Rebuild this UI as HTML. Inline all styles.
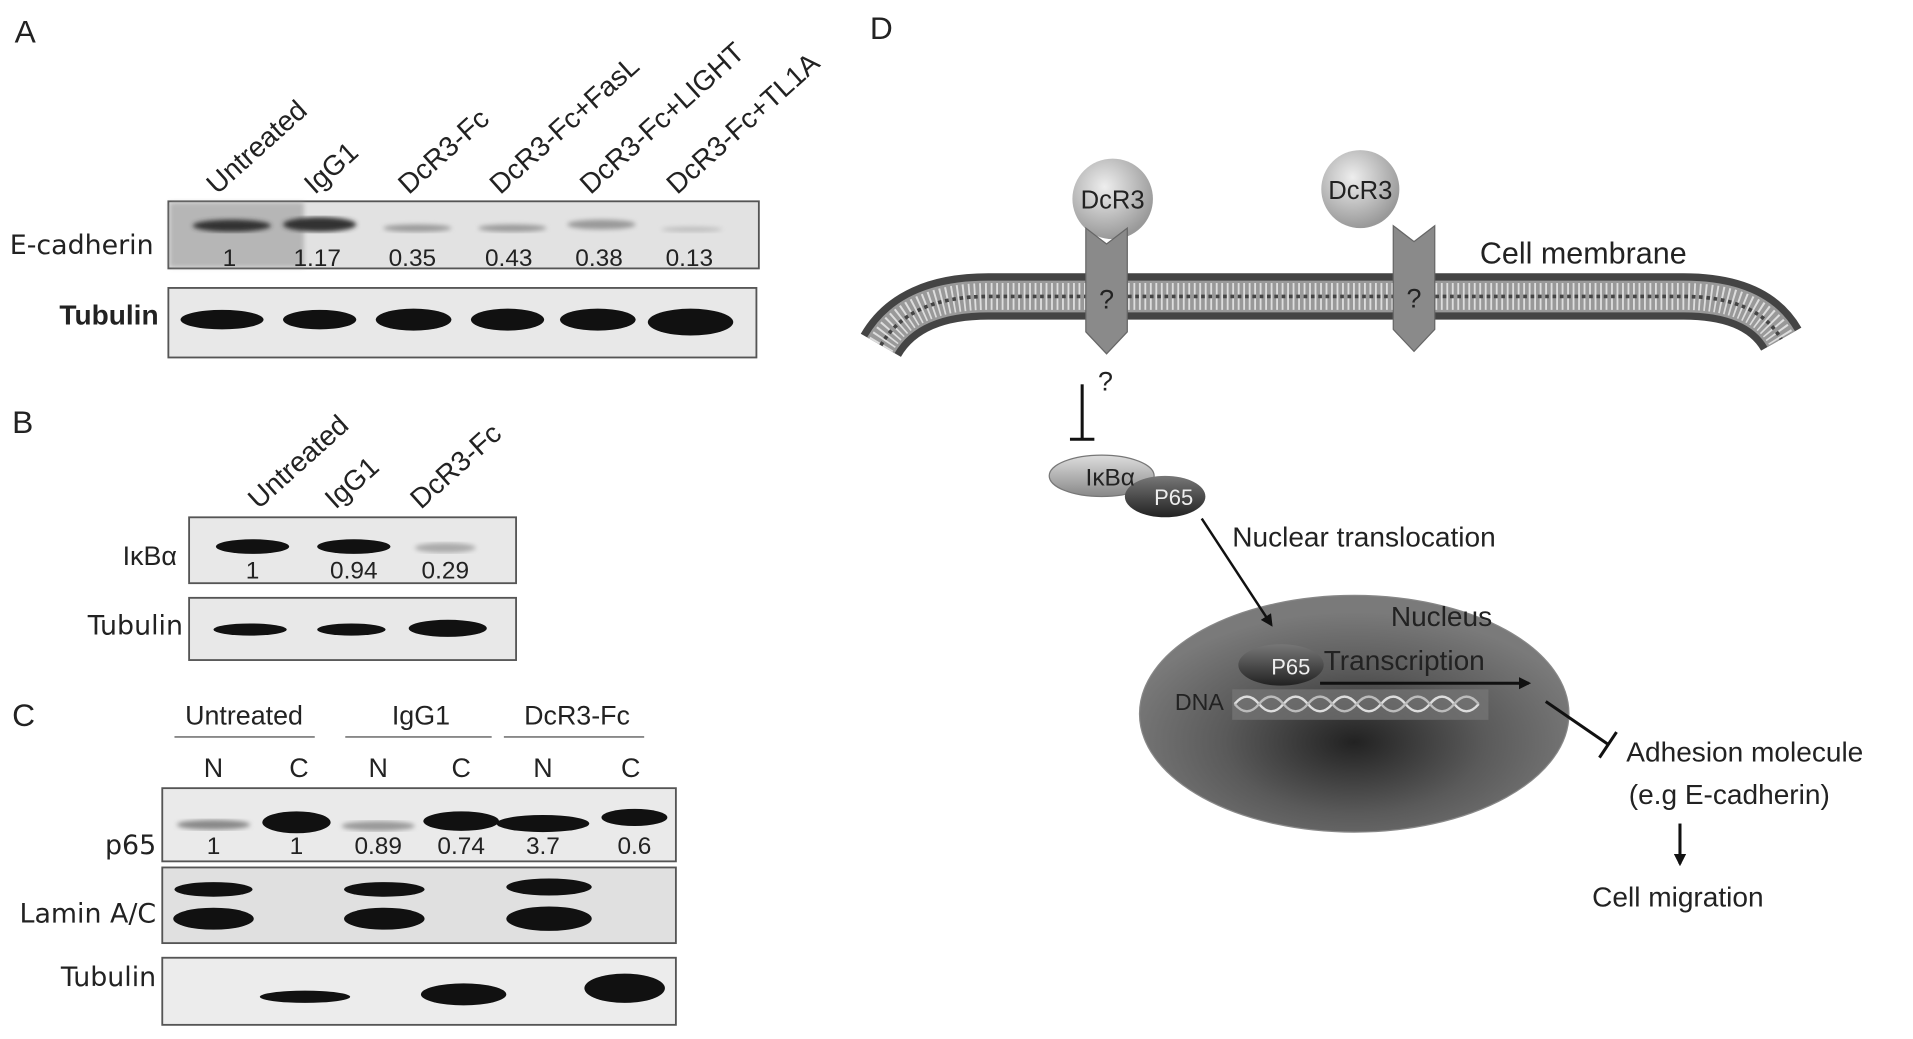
<!DOCTYPE html>
<html><head><meta charset="utf-8"><style>
html,body{margin:0;padding:0;background:#fff;}
svg{display:block;}
text{font-family:"Liberation Sans",sans-serif;fill:#222;}
.b{font-family:"DejaVu Sans","Liberation Sans",sans-serif;}
</style></head><body>
<svg width="1913" height="1039" viewBox="0 0 1568 851.6" preserveAspectRatio="none" xmlns="http://www.w3.org/2000/svg">
<defs>
<radialGradient id="ball" cx="40%" cy="35%" r="65%"><stop offset="0" stop-color="#eee"/><stop offset="1" stop-color="#999"/></radialGradient>
<radialGradient id="nuc" cx="50%" cy="62%" r="55%"><stop offset="0" stop-color="#222"/><stop offset="0.55" stop-color="#5a5a5a"/><stop offset="1" stop-color="#7a7a7a"/></radialGradient>
<linearGradient id="ikb" x1="0" y1="0" x2="0" y2="1"><stop offset="0" stop-color="#ddd"/><stop offset="1" stop-color="#888"/></linearGradient>
<linearGradient id="p65" x1="0" y1="0" x2="0" y2="1"><stop offset="0" stop-color="#777"/><stop offset="1" stop-color="#222"/></linearGradient>
<filter id="bl"><feGaussianBlur stdDeviation="2"/></filter>
<marker id="ar" markerWidth="10" markerHeight="10" refX="8" refY="5" orient="auto" markerUnits="userSpaceOnUse"><path d="M0,0 L10,5 L0,10 z" fill="#111"/></marker>
</defs>

<!-- Panel A -->
<text x="12" y="35" font-size="26">A</text>
<g font-size="23">
<text transform="translate(178,160) rotate(-42)">Untreated</text>
<text transform="translate(258,160) rotate(-42)">IgG1</text>
<text transform="translate(335,160) rotate(-42)">DcR3-Fc</text>
<text transform="translate(410,160) rotate(-42)">DcR3-Fc+FasL</text>
<text transform="translate(484,160) rotate(-42)">DcR3-Fc+LIGHT</text>
<text transform="translate(555,160) rotate(-42)">DcR3-Fc+TL1A</text>
</g>
<rect x="138" y="165" width="484" height="55" fill="#e2e2e2" stroke="#555" stroke-width="1.5"/>
<rect x="139" y="166" width="110" height="53" fill="#999" filter="url(#bl)" opacity="0.6"/>
<g filter="url(#bl)" fill="#333">
<ellipse cx="190" cy="185" rx="32" ry="5"/><ellipse cx="262" cy="184" rx="30" ry="6"/>
<ellipse cx="342" cy="187" rx="28" ry="3" fill="#999"/><ellipse cx="420" cy="187" rx="28" ry="3" fill="#999"/>
<ellipse cx="493" cy="184" rx="28" ry="4" fill="#999"/><ellipse cx="567" cy="188" rx="25" ry="2" fill="#bbb"/>
</g>
<g font-size="20" text-anchor="middle"><text x="188" y="218">1</text><text x="260" y="218">1.17</text><text x="338" y="218">0.35</text><text x="417" y="218">0.43</text><text x="491" y="218">0.38</text><text x="565" y="218">0.13</text></g>
<text x="8" y="208" font-size="22" class="b">E-cadherin</text>
<rect x="138" y="236" width="482" height="57" fill="#e8e8e8" stroke="#555" stroke-width="1.5"/>
<g fill="#111"><ellipse cx="182" cy="262" rx="34" ry="8"/><ellipse cx="262" cy="262" rx="30" ry="8"/><ellipse cx="339" cy="262" rx="31" ry="9"/><ellipse cx="416" cy="262" rx="30" ry="9"/><ellipse cx="490" cy="262" rx="31" ry="9"/><ellipse cx="566" cy="264" rx="35" ry="11"/></g>
<text x="130" y="266" font-size="23" text-anchor="end" font-weight="bold">Tubulin</text>

<!-- Panel B -->
<text x="10" y="355" font-size="26">B</text>
<g font-size="23">
<text transform="translate(212,418) rotate(-42)">Untreated</text>
<text transform="translate(275,418) rotate(-42)">IgG1</text>
<text transform="translate(345,418) rotate(-42)">DcR3-Fc</text>
</g>
<rect x="155" y="424" width="268" height="54" fill="#e8e8e8" stroke="#555" stroke-width="1.5"/>
<g fill="#111"><ellipse cx="207" cy="448" rx="30" ry="6"/><ellipse cx="290" cy="448" rx="30" ry="6"/><ellipse cx="365" cy="449" rx="25" ry="4" fill="#aaa" filter="url(#bl)"/></g>
<g font-size="20" text-anchor="middle"><text x="207" y="474">1</text><text x="290" y="474">0.94</text><text x="365" y="474">0.29</text></g>
<text x="145" y="463" font-size="22" text-anchor="end">IκBα</text>
<rect x="155" y="490" width="268" height="51" fill="#e8e8e8" stroke="#555" stroke-width="1.5"/>
<g fill="#111"><ellipse cx="205" cy="516" rx="30" ry="5"/><ellipse cx="288" cy="516" rx="28" ry="5"/><ellipse cx="367" cy="515" rx="32" ry="7"/></g>
<text x="150" y="520" font-size="22" text-anchor="end" class="b">Tubulin</text>

<!-- Panel C -->
<text x="10" y="595" font-size="26">C</text>
<g font-size="22" text-anchor="middle"><text x="200" y="594">Untreated</text><text x="345" y="594">IgG1</text><text x="473" y="594">DcR3-Fc</text></g>
<g stroke="#888" stroke-width="1.5"><line x1="143" y1="604" x2="258" y2="604"/><line x1="283" y1="604" x2="403" y2="604"/><line x1="413" y1="604" x2="528" y2="604"/></g>
<g font-size="22" text-anchor="middle"><text x="175" y="637">N</text><text x="245" y="637">C</text><text x="310" y="637">N</text><text x="378" y="637">C</text><text x="445" y="637">N</text><text x="517" y="637">C</text></g>
<rect x="133" y="646" width="421" height="60" fill="#eaeaea" stroke="#555" stroke-width="1.5"/>
<g fill="#111"><ellipse cx="175" cy="676" rx="30" ry="4" fill="#888" filter="url(#bl)"/><ellipse cx="243" cy="674" rx="28" ry="9"/><ellipse cx="310" cy="677" rx="30" ry="4" fill="#999" filter="url(#bl)"/><ellipse cx="378" cy="673" rx="31" ry="8"/><ellipse cx="445" cy="675" rx="38" ry="7"/><ellipse cx="520" cy="670" rx="27" ry="7"/></g>
<g font-size="20" text-anchor="middle"><text x="175" y="700">1</text><text x="243" y="700">1</text><text x="310" y="700">0.89</text><text x="378" y="700">0.74</text><text x="445" y="700">3.7</text><text x="520" y="700">0.6</text></g>
<text x="128" y="700" font-size="22" text-anchor="end" class="b">p65</text>
<rect x="133" y="711" width="421" height="62" fill="#e0e0e0" stroke="#555" stroke-width="1.5"/>
<g fill="#111"><ellipse cx="175" cy="729" rx="32" ry="6"/><ellipse cx="175" cy="753" rx="33" ry="9"/><ellipse cx="315" cy="729" rx="33" ry="6"/><ellipse cx="315" cy="753" rx="33" ry="9"/><ellipse cx="450" cy="727" rx="35" ry="7"/><ellipse cx="450" cy="753" rx="35" ry="10"/></g>
<text x="128" y="756" font-size="22" text-anchor="end" class="b">Lamin A/C</text>
<rect x="133" y="785" width="421" height="55" fill="#ececec" stroke="#555" stroke-width="1.5"/>
<g fill="#111"><ellipse cx="250" cy="817" rx="37" ry="5"/><ellipse cx="380" cy="815" rx="35" ry="9"/><ellipse cx="512" cy="810" rx="33" ry="12"/></g>
<text x="128" y="808" font-size="22" text-anchor="end" class="b">Tubulin</text>

<!-- Panel D -->
<text x="713" y="32" font-size="26">D</text>
<path d="M722,283 Q745,243 810,243 L1380,243 Q1440,243 1460,278" fill="none" stroke="#444" stroke-width="38"/>
<path d="M722,283 Q745,243 810,243 L1380,243 Q1440,243 1460,278" fill="none" stroke="#999" stroke-width="26"/>
<path d="M722,283 Q745,243 810,243 L1380,243 Q1440,243 1460,278" fill="none" stroke="#ddd" stroke-width="22" stroke-dasharray="1.5 3"/>
<path d="M722,283 Q745,243 810,243 L1380,243 Q1440,243 1460,278" fill="none" stroke="#444" stroke-width="3" stroke-dasharray="3 3"/>
<circle cx="912" cy="163" r="33" fill="url(#ball)"/>
<text x="912" y="171" font-size="21" text-anchor="middle">DcR3</text>
<circle cx="1115" cy="155" r="32" fill="url(#ball)"/>
<text x="1115" y="163" font-size="21" text-anchor="middle">DcR3</text>
<polygon points="890,187 907,200 924,187 924,272 907,290 890,272" fill="#8a8a8a" stroke="#666"/>
<text x="907" y="253" font-size="22" text-anchor="middle">?</text>
<polygon points="1142,185 1159,198 1176,185 1176,270 1159,288 1142,270" fill="#8a8a8a" stroke="#666"/>
<text x="1159" y="252" font-size="22" text-anchor="middle">?</text>
<text x="1213" y="216" font-size="25">Cell membrane</text>
<line x1="887" y1="315" x2="887" y2="360" stroke="#111" stroke-width="2.5"/>
<line x1="877" y1="360" x2="897" y2="360" stroke="#111" stroke-width="2.5"/>
<text x="900" y="320" font-size="22">?</text>
<ellipse cx="903" cy="390" rx="43" ry="17" fill="url(#ikb)" stroke="#777"/>
<ellipse cx="955" cy="407" rx="33" ry="17" fill="url(#p65)"/>
<text x="910" y="398" font-size="20" text-anchor="middle">IκBα</text>
<text x="962" y="414" font-size="18" text-anchor="middle" style="fill:#eee">P65</text>
<text x="1010" y="448" font-size="23">Nuclear translocation</text>
<ellipse cx="1110" cy="585" rx="176" ry="97" fill="url(#nuc)" stroke="#888"/>
<line x1="985" y1="425" x2="1042" y2="512" stroke="#111" stroke-width="2" marker-end="url(#ar)"/>
<text x="1140" y="513" font-size="23">Nucleus</text>
<rect x="1010" y="565" width="210" height="25" fill="#777" opacity="0.7"/>
<path d="M1012,577 q10,-12 20,0 t20,0 t20,0 t20,0 t20,0 t20,0 t20,0 t20,0 t20,0 t20,0" fill="none" stroke="#ddd" stroke-width="2"/>
<path d="M1012,577 q10,12 20,0 t20,0 t20,0 t20,0 t20,0 t20,0 t20,0 t20,0 t20,0 t20,0" fill="none" stroke="#bbb" stroke-width="2"/>
<text x="963" y="582" font-size="19">DNA</text>
<ellipse cx="1050" cy="545" rx="35" ry="17" fill="url(#p65)"/>
<text x="1058" y="553" font-size="18" text-anchor="middle" style="fill:#eee">P65</text>
<text x="1085" y="549" font-size="23">Transcription</text>
<line x1="1082" y1="560" x2="1253" y2="560" stroke="#111" stroke-width="2.5" marker-end="url(#ar)"/>
<line x1="1267" y1="575" x2="1318" y2="610" stroke="#111" stroke-width="2.5"/>
<line x1="1311" y1="621" x2="1325" y2="600" stroke="#111" stroke-width="2.5"/>
<text x="1333" y="624" font-size="23">Adhesion molecule</text>
<text x="1335" y="659" font-size="23">(e.g E-cadherin)</text>
<line x1="1377" y1="675" x2="1377" y2="708" stroke="#111" stroke-width="2.5" marker-end="url(#ar)"/>
<text x="1305" y="743" font-size="23">Cell migration</text>
</svg>
</body></html>
